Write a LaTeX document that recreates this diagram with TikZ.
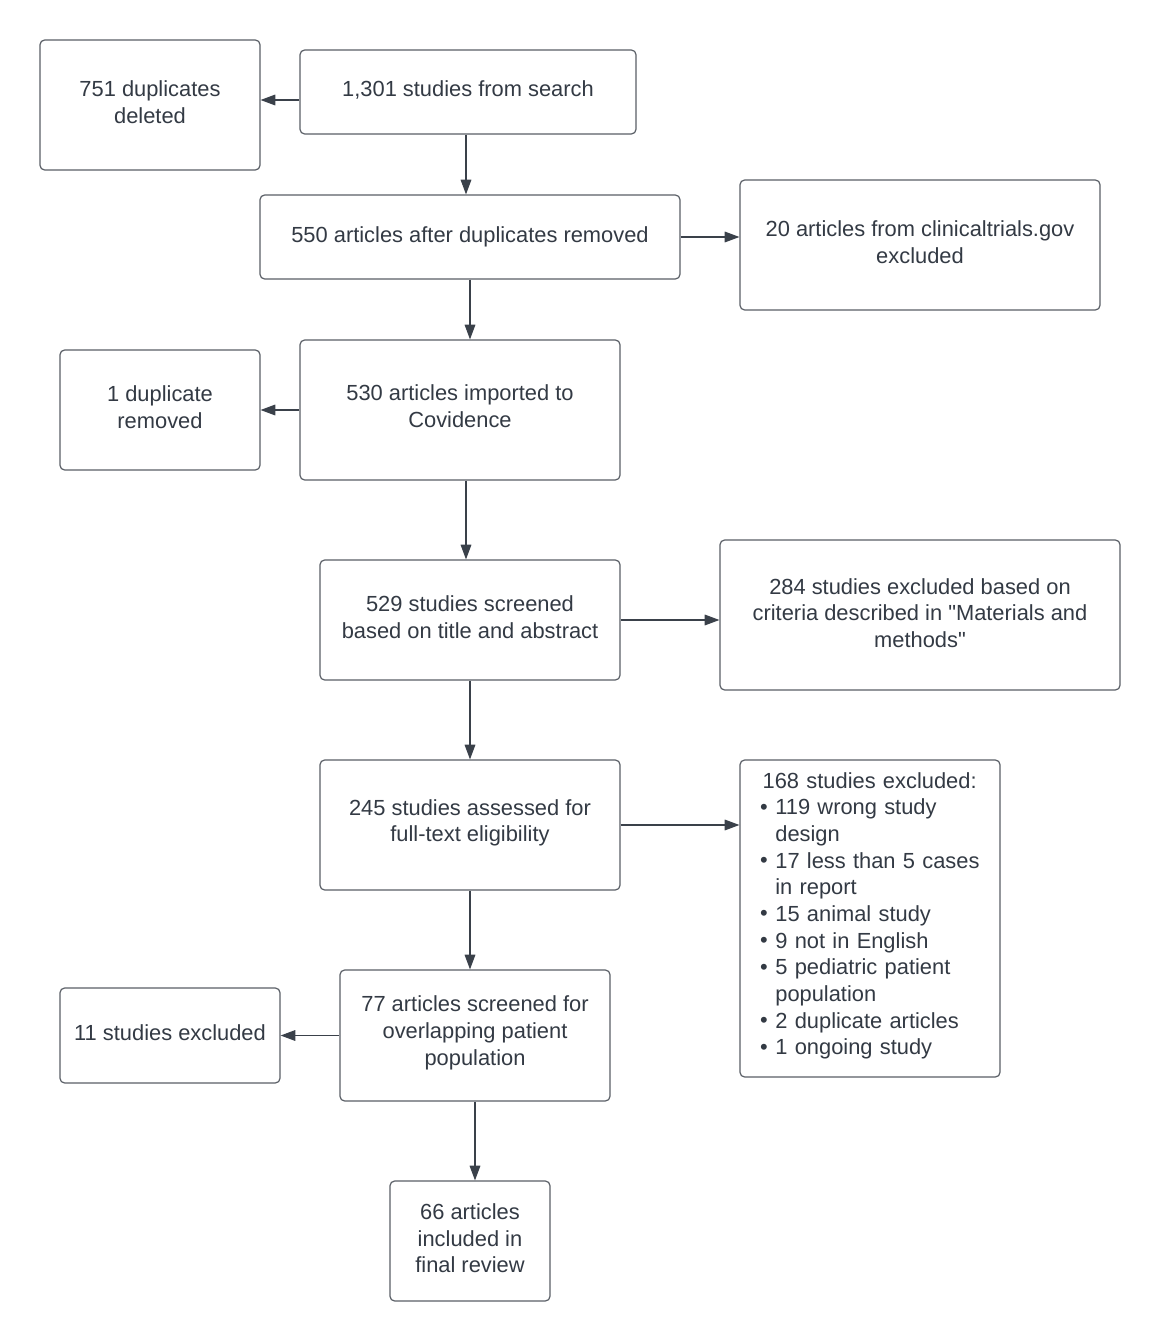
\documentclass[tikz,border=0pt]{standalone}
\usepackage{fontspec}
\setmainfont{Liberation Sans}
\newfontfamily\plainqfont{Liberation Sans}
\usetikzlibrary{arrows.meta}
\definecolor{txt}{HTML}{333A44}
\definecolor{edge}{HTML}{5A5F66}
\definecolor{arr}{HTML}{3A414A}
\newcommand{\bul}{\makebox[11.5pt][l]{\raisebox{0.5pt}{•}}}
\newcommand{\ind}{\hspace*{11.5pt}}
\newcommand{\dq}{{\plainqfont\symbol{34}}}
\begin{document}
\begin{tikzpicture}[x=0.75pt,y=-0.75pt,
  box/.style 2 args={draw=edge, line width=0.9pt, rounded corners=3.5pt, align=center,
    text=txt, font=\fontsize{16.4}{20}\selectfont, inner sep=0pt,
    minimum width=#1*0.75pt, minimum height=#2*0.75pt},
  lbl/.style={text=txt, font=\fontsize{16.4}{20}\selectfont, inner sep=0pt, align=center},
  arrow/.style={draw=arr, line width=0.8pt, -{Triangle[length=11pt,width=8pt]}}]
\useasboundingbox[fill=white] (0,0) rectangle (1160,1341);

\node[box={220}{130}] (b1) at (150,105) {};
\node[lbl] (t1) at ([yshift=2pt]b1.center) {751 duplicates\\deleted};
\node[box={336}{84}] (b2) at (468,92) {};
\node[lbl] (t2) at ([yshift=1.5pt]b2.center) {1,301 studies from search};
\node[box={420}{84}] (b3) at (470,237) {};
\node[lbl] (t3) at ([yshift=0pt]b3.center) {550 articles after duplicates removed};
\node[box={360}{130}] (b4) at (920,245) {};
\node[lbl] (t4) at ([yshift=2pt]b4.center) {20 articles from clinicaltrials.gov\\excluded};
\node[box={200}{120}] (b5) at (160,410) {};
\node[lbl] (t5) at ([yshift=2pt]b5.center) {1 duplicate\\removed};
\node[box={320}{140}] (b6) at (460,410) {};
\node[lbl] (t6) at ([yshift=3pt]b6.center) {530 articles imported to\\Covidence};
\node[box={300}{120}] (b7) at (470,620) {};
\node[lbl] (t7) at ([yshift=2pt]b7.center) {529 studies screened\\based on title and abstract};
\node[box={400}{150}] (b8) at (920,615) {};
\node[lbl] (t8) at ([yshift=1.5pt]b8.center) {284 studies excluded based on\\criteria described in \dq Materials and\\methods\dq};
\node[box={300}{130}] (b9) at (470,825) {};
\node[lbl] (t9) at ([yshift=1.5pt]b9.center) {245 studies assessed for\\full-text eligibility};
\node[box={260}{317}] (b10) at (870,918.5) {};
\node[lbl, align=left, text width=165pt] (t10) at ([yshift=2pt]b10.center) {%
\hspace*{2pt}168 studies excluded:\\
\bul 119 wrong study\\
\ind design\\
\bul 17 less than 5 cases\\
\ind in report\\
\bul 15 animal study\\
\bul 9 not in English\\
\bul 5 pediatric patient\\
\ind population\\
\bul 2 duplicate articles\\
\bul 1 ongoing study};
\node[box={270}{131}] (b11) at (475,1035.5) {};
\node[lbl] (t11) at ([yshift=2pt]b11.center) {77 articles screened for\\overlapping patient\\population};
\node[box={220}{95}] (b12) at (170,1035.5) {};
\node[lbl] (t12) at ([yshift=2pt]b12.center) {11 studies excluded};
\node[box={160}{120}] (b13) at (470,1241) {};
\node[lbl] (t13) at ([yshift=2pt]b13.center) {66 articles\\included in\\final review};

\draw[arrow] ([yshift=-6pt]b2.west) -- ([yshift=-6pt]b2.west -| b1.east);
\draw[arrow] ([xshift=-1.5pt]b2.south) -- ([xshift=-1.5pt]b2.south |- b3.north);
\draw[arrow] (b3.east) -- (b3.east -| b4.west);
\draw[arrow] (b3.south) -- (b3.south |- b6.north);
\draw[arrow] (b6.west) -- (b6.west -| b5.east);
\draw[arrow] ([xshift=4.5pt]b6.south) -- ([xshift=4.5pt]b6.south |- b7.north);
\draw[arrow] (b7.east) -- (b7.east -| b8.west);
\draw[arrow] (b7.south) -- (b7.south |- b9.north);
\draw[arrow] (b9.east) -- (b9.east -| b10.west);
\draw[arrow] (b9.south) -- (b9.south |- b11.north);
\draw[arrow] (b11.west) -- (b11.west -| b12.east);
\draw[arrow] (b11.south) -- (b11.south |- b13.north);
\end{tikzpicture}
\end{document}
